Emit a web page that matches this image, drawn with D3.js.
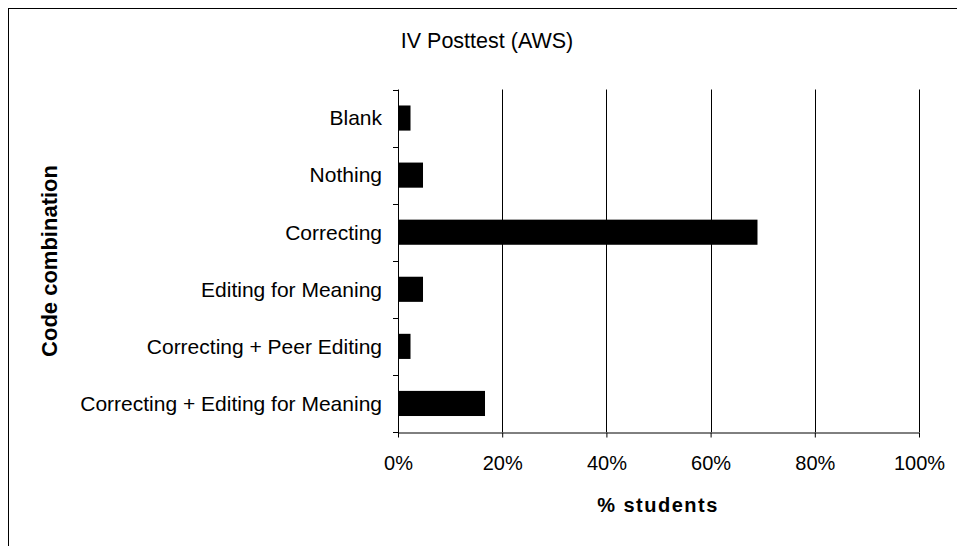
<!DOCTYPE html>
<html><head><meta charset="utf-8">
<script src="https://cdn.jsdelivr.net/npm/d3@7"></script>
<style>body{margin:0;background:#fff}svg{display:block}text{font-family:"Liberation Sans",Arial,sans-serif;fill:#000}</style>
</head><body>
<svg id="c" width="957" height="546"></svg>
<script>
const categories = ["Blank","Nothing","Correcting","Editing for Meaning","Correcting + Peer Editing","Correcting + Editing for Meaning"];
const values = [2.4, 4.8, 69.0, 4.8, 2.4, 16.7];
const xTicks = [0,20,40,60,80,100];
const title = "IV Posttest (AWS)";
const xTitle = "% students";
const yTitle = "Code combination";

const svg = d3.select("#c");
svg.append("rect").attr("x",8.5).attr("y",8.5).attr("width",1000).attr("height",600)
  .attr("fill","none").attr("stroke","#000").attr("stroke-width",1);

const L=398, R=919, T=89.5, B=432;
const x = d3.scaleLinear().domain([0,100]).range([L,R]);
const y = d3.scaleBand().domain(categories).range([T,B]).paddingInner(0.56).paddingOuter(0.28);

// gridlines
svg.append("g").selectAll("line").data(xTicks.filter(d=>d>0)).join("line")
  .attr("x1",d=>Math.round(x(d))+0.5).attr("x2",d=>Math.round(x(d))+0.5)
  .attr("y1",T).attr("y2",B).attr("stroke","#000").attr("stroke-width",1);

// bars
svg.append("g").selectAll("rect").data(values).join("rect")
  .attr("x",x(0)).attr("y",(d,i)=>y(categories[i]))
  .attr("width",d=>x(d)-x(0)).attr("height",y.bandwidth()).attr("fill","#000");

// x axis
const xa = svg.append("g").attr("transform",`translate(0,${B+0.5})`)
  .call(d3.axisBottom(x).tickValues(xTicks).tickFormat(d=>d+"%").tickSize(5).tickSizeOuter(0));
xa.select(".domain").attr("stroke","#000");
xa.selectAll("text").attr("font-size",20).attr("y",23).style("font-family","Liberation Sans, Arial");

// y axis: ticks at band boundaries
const bounds = categories.map(c=>y(c)-y.step()*y.paddingInner()/2).concat([B]);
const ya = svg.append("g");
ya.append("line").attr("x1",L+0.5).attr("x2",L+0.5).attr("y1",T).attr("y2",B+5).attr("stroke","#000");
ya.selectAll("line.t").data(bounds).join("line").attr("class","t")
  .attr("x1",L-5).attr("x2",L).attr("y1",d=>Math.round(d)+0.5).attr("y2",d=>Math.round(d)+0.5).attr("stroke","#000");
ya.selectAll("text").data(categories).join("text")
  .attr("x",L-16).attr("y",d=>y(d)+y.bandwidth()/2).attr("dy","0.35em")
  .attr("text-anchor","end").attr("font-size",21).text(d=>d);

svg.append("text").attr("x",487).attr("y",48).attr("text-anchor","middle").attr("font-size",21.5).text(title);
svg.append("text").attr("x",658).attr("y",512).attr("text-anchor","middle").attr("font-size",20)
  .attr("font-weight","bold").attr("letter-spacing",1.5).text(xTitle);
svg.append("text").attr("transform","translate(57,261) rotate(-90)").attr("text-anchor","middle")
  .attr("font-size",22).attr("font-weight","bold").text(yTitle);
</script>
</body></html>
